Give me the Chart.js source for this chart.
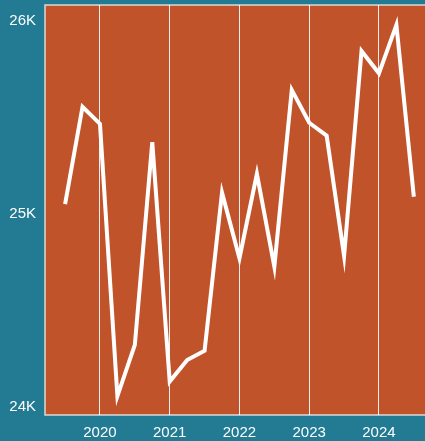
<!DOCTYPE html>
<html>
<head>
<meta charset="utf-8">
<script src="https://cdn.jsdelivr.net/npm/chart.js@4"></script>
<style>
    html, body { margin: 0; padding: 0; background: #227b93; }
    #wrap { width: 425px; height: 441px; }
</style>
</head>
<body>
<div id="wrap"><canvas id="chart"></canvas></div>
<script>
// Data
const quarters = ['2019-07', '2019-10', '2020-01', '2020-04', '2020-07', '2020-10',
    '2021-01', '2021-04', '2021-07', '2021-10', '2022-01', '2022-04', '2022-07', '2022-10',
    '2023-01', '2023-04', '2023-07', '2023-10', '2024-01', '2024-04', '2024-07'];
const values = [25049, 25554, 25465, 24055, 24320, 25371, 24130, 24242, 24290, 25109,
    24769, 25206, 24725, 25641, 25471, 25404, 24781, 25843, 25727, 25978, 25088];
const yearTicks = [2020, 2021, 2022, 2023, 2024];
const valueTicks = [24000, 25000, 26000];

const toYear = s => {
    const [y, m] = s.split('-').map(Number);
    return y + (m - 1) / 12;
};

// plot background + frame (top, left, bottom)
const plotFrame = {
    id: 'plotFrame',
    beforeDraw(chart) {
        const { ctx, chartArea: a } = chart;
        ctx.save();
        ctx.fillStyle = '#c1532a';
        ctx.fillRect(a.left, a.top, a.right - a.left, a.bottom - a.top);
        ctx.restore();
    },
    afterDatasetsDraw(chart) {
        const { ctx, chartArea: a } = chart;
        ctx.save();
        ctx.strokeStyle = 'rgba(255,255,255,0.75)';
        ctx.lineWidth = 1.5;
        ctx.beginPath();
        ctx.moveTo(a.right, a.top);
        ctx.lineTo(a.left, a.top);
        ctx.lineTo(a.left, a.bottom);
        ctx.lineTo(a.right, a.bottom);
        ctx.stroke();
        ctx.restore();
    }
};

new Chart(document.getElementById('chart'), {
    type: 'line',
    data: {
        datasets: [{
            data: quarters.map((q, i) => ({ x: toYear(q), y: values[i] })),
            borderColor: '#ffffff',
            borderWidth: 4,
            pointRadius: 0,
            tension: 0,
            fill: false
        }]
    },
    options: {
        responsive: true,
        maintainAspectRatio: false,
        animation: false,
        layout: { padding: { top: 5, right: 0, left: 0, bottom: 0 } },
        plugins: { legend: { display: false }, tooltip: { enabled: false } },
        scales: {
            x: {
                type: 'linear',
                min: 2019.212,
                max: 2024.66,
                afterBuildTicks: s => { s.ticks = yearTicks.map(v => ({ value: v })); },
                afterFit: s => { s.height = 26; s.paddingLeft = 0; s.paddingRight = 0; },
                grid: { color: 'rgba(255,255,255,0.9)', lineWidth: 1, drawTicks: false },
                border: { display: false },
                ticks: {
                    color: '#ffffff',
                    padding: 9,
                    maxRotation: 0,
                    font: { family: 'Liberation Sans', size: 15 },
                    callback: v => String(v)
                }
            },
            y: {
                min: 23957,
                max: 26081,
                afterBuildTicks: s => { s.ticks = valueTicks.map(v => ({ value: v })); },
                afterFit: s => { s.width = 45; s.paddingTop = 0; s.paddingBottom = 0; },
                grid: { display: false, drawTicks: false },
                border: { display: false },
                ticks: {
                    color: '#ffffff',
                    padding: 9,
                    font: { family: 'Liberation Sans', size: 15 },
                    callback: v => (v / 1000) + 'K'
                }
            }
        }
    },
    plugins: [plotFrame]
});
</script>
</body>
</html>
